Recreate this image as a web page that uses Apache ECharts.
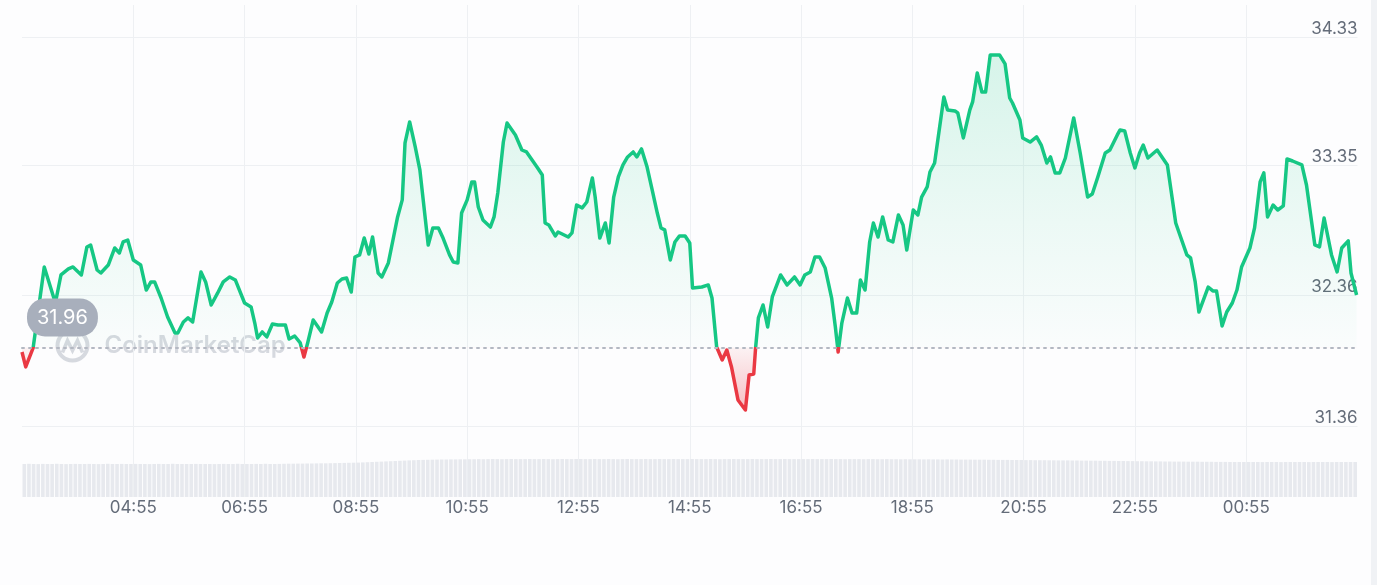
<!DOCTYPE html>
<html><head><meta charset="utf-8">
<script src="https://cdn.jsdelivr.net/npm/echarts@6/dist/echarts.min.js"></script>
<style>html,body{margin:0;padding:0;background:#fdfdfe}#c{width:1377px;height:585px}</style>
</head><body><div id="c"></div>
<script>
// ---- data ----
const xTickLabels = ['04:55','06:55','08:55','10:55','12:55','14:55','16:55','18:55','20:55','22:55','00:55'];
const yTickValues = [31.36, 32.36, 33.35, 34.33];
const baseline = 31.96;
// minutes since 02:55
const minutes = [0,4,12,24,36,42,50,55,64,70,
74,81,85,93,100,105,109,114,120,128,
134,139,143,150,157,165,168,174,179,184,
193,198,204,211,217,224,230,240,247,251,
254,259,264,270,276,284,288,294,300,304,
308,314,323,329,334,340,345,350,355,359,
364,369,374,378,384,388,395,400,405,410,
413,418,424,429,438,443,449,454,461,465,
470,474,480,485,488,492,497,505,509,513,
519,523,532,539,544,550,556,561,564,568,
575,578,589,593,598,604,609,615,618,623,
629,633,638,643,648,653,659,663,668,674,
679,685,689,693,699,704,709,715,720,723,
733,740,744,749,755,760,765,772,780,784,
789,791,794,799,804,809,818,825,833,839,
844,850,855,860,866,873,877,880,884,890,
895,900,904,909,914,918,923,928,934,939,
945,950,954,961,966,970,976,979,984,994,
998,1006,1009,1015,1022,1025,1030,1035,1039,1044,
1054,1060,1065,1068,1076,1079,1087,1094,1099,1105,
1109,1114,1119,1125,1134,1141,1149,1154,1160,1168,
1173,1181,1184,1189,1195,1200,1205,1209,1214,1224,
1235,1240,1244,1256,1260,1265,1269,1279,1284,1288,
1294,1299,1305,1310,1315,1324,1329,1335,1339,1343,
1349,1354,1360,1364,1370,1380,1385,1391,1394,1399,
1404,1412,1418,1423,1430,1433,1439];
const prices = [31.925,31.811,31.956,32.574,32.299,32.513,32.559,32.574,32.513,32.727,
32.742,32.551,32.528,32.589,32.719,32.681,32.765,32.780,32.627,32.589,
32.398,32.460,32.460,32.337,32.192,32.070,32.070,32.154,32.185,32.154,
32.536,32.460,32.284,32.376,32.460,32.498,32.475,32.299,32.269,32.146,
32.032,32.078,32.040,32.139,32.131,32.131,32.024,32.047,31.994,31.887,
31.994,32.169,32.078,32.223,32.307,32.452,32.482,32.490,32.383,32.650,
32.666,32.795,32.673,32.803,32.528,32.498,32.605,32.780,32.956,33.086,
33.521,33.681,33.490,33.315,32.742,32.872,32.872,32.795,32.666,32.612,
32.605,32.986,33.086,33.223,33.223,33.032,32.933,32.879,32.956,33.139,
33.528,33.673,33.582,33.467,33.452,33.391,33.330,33.276,32.910,32.895,
32.811,32.841,32.803,32.834,33.047,33.025,33.070,33.254,33.108,32.795,
32.910,32.757,33.108,33.261,33.353,33.414,33.452,33.414,33.475,33.337,
33.177,32.986,32.872,32.857,32.627,32.765,32.811,32.811,32.757,32.414,
32.421,32.437,32.337,31.963,31.864,31.940,31.811,31.559,31.482,31.750,
31.757,31.956,32.185,32.284,32.116,32.345,32.513,32.437,32.498,32.437,
32.513,32.536,32.650,32.650,32.566,32.337,32.116,31.925,32.146,32.337,
32.223,32.223,32.475,32.398,32.765,32.910,32.803,32.956,32.780,32.765,
32.971,32.895,32.704,33.009,32.971,33.108,33.185,33.299,33.368,33.872,
33.773,33.765,33.750,33.559,33.773,33.834,34.055,33.910,33.910,34.193,
34.193,34.124,33.864,33.826,33.696,33.559,33.528,33.567,33.505,33.368,
33.414,33.292,33.292,33.406,33.712,33.444,33.108,33.131,33.261,33.444,
33.467,33.582,33.620,33.612,33.444,33.330,33.444,33.505,33.406,33.467,
33.353,33.108,32.910,32.666,32.643,32.460,32.230,32.421,32.391,32.391,
32.124,32.230,32.299,32.398,32.574,32.719,32.872,33.223,33.292,32.956,
33.047,33.009,33.040,33.399,33.383,33.353,33.200,32.895,32.742,32.727,
32.948,32.666,32.536,32.719,32.773,32.528,32.360];
// relative volume per 5-minute bar
const volumes = [
33,33.2,33,32.9,33.1,33,33,33.2,33,32.9,33,33.1,
33,33,33.1,33,32.9,33,33.2,33,33,33.1,33,33,
33.1,33,33,32.9,33,33.1,33,33,33.2,33,33,33,
33,33.1,33,33,33,32.9,33,33.1,33,33,33.2,33,
33,33,33.1,33,33.2,33,33,33.1,33.2,33.3,33.3,33.4,
33.4,33.5,33.5,33.6,33.7,33.7,33.8,33.9,34,34.1,34.2,34.3,
34.4,34.6,34.8,35,35.2,35.4,35.6,35.8,36,36.2,36.4,36.6,
36.8,37,37.1,37.2,37.3,37.4,37.5,37.5,37.6,37.6,37.7,37.7,
37.8,37.8,37.9,37.8,37.9,38,37.9,37.8,37.9,38,37.9,37.9,
37.9,38,37.9,37.9,38,37.9,37.8,37.9,38,37.9,37.9,38,
38,37.9,37.9,38,37.9,37.9,38,37.9,37.8,37.9,38,37.9,
37.9,37.9,38,37.9,37.9,38,37.9,37.9,38,37.9,37.9,37.9,
38,37.9,37.9,37.9,38,37.9,37.8,37.9,37.9,38,37.9,37.9,
37.9,38,37.9,37.9,37.9,38,37.9,37.9,38,37.9,37.9,37.9,
37.9,37.9,38,37.9,37.9,37.9,38,37.9,37.9,37.8,37.9,37.9,
37.9,37.8,37.9,37.9,37.8,37.8,37.9,37.8,37.8,37.7,37.8,37.7,
37.7,37.7,37.6,37.7,37.6,37.6,37.5,37.6,37.5,37.5,37.4,37.4,
37.4,37.3,37.3,37.3,37.2,37.2,37.1,37.1,37.1,37,37,37,
36.9,36.9,36.8,36.8,36.8,36.7,36.7,36.6,36.6,36.6,36.5,36.5,
36.4,36.4,36.3,36.3,36.2,36.2,36.1,36.1,36,36,35.9,35.9,
35.8,35.8,35.7,35.7,35.6,35.6,35.5,35.5,35.4,35.4,35.4,35.3,
35.3,35.3,35.2,35.2,35.2,35.1,35.1,35.1,35,35,35,35,
35,35,35,34.9,35,35,35,34.9,35,35,35,35,
35,34.9,35,35,35,35,34.9,35,35,35,35,35];

const GREEN = '#16c784', RED = '#ea3943';
const FONT = 'Inter, Roboto, sans-serif';
const LABEL = '#646c79';
const GRID = '#eef0f3';

const chart = echarts.init(document.getElementById('c'), null, {renderer: 'canvas'});
const option = {
  backgroundColor: '#fdfdfe',
  animation: false,
  grid: [
    {left: 22, right: 19.5, top: 5, bottom: 88},
    {left: 22, right: 19.5, top: 459, bottom: 88}
  ],
  xAxis: [
    {type: 'value', gridIndex: 0, min: 0, max: 1440, interval: 120,
     axisLine: {show: false}, axisTick: {show: false},
     splitLine: {show: true, showMinLine: false, showMaxLine: false, lineStyle: {color: GRID, width: 1}},
     axisLabel: {showMinLabel: false, showMaxLabel: false, margin: 2,
       formatter: v => xTickLabels[v / 120 - 1] || '',
       color: LABEL, fontSize: 17, fontFamily: FONT}},
    {type: 'category', gridIndex: 1, data: volumes.map((_, i) => i), show: false}
  ],
  yAxis: [
    {type: 'value', gridIndex: 0, position: 'right', min: 30.818, max: 34.574,
     axisLine: {show: false},
     axisTick: {show: false, customValues: yTickValues},
     axisLabel: {customValues: yTickValues, inside: true, verticalAlign: 'bottom', margin: 0,
       formatter: v => v.toFixed(2), color: LABEL, fontSize: 17, fontFamily: FONT},
     splitLine: {show: true, lineStyle: {color: GRID, width: 1}}},
    {type: 'value', gridIndex: 1, min: 0, max: 38, show: false}
  ],
  visualMap: {
    show: false, seriesIndex: 0, dimension: 1,
    pieces: [{min: 0, max: baseline, color: RED}, {gt: baseline, max: 100, color: GREEN}]
  },
  graphic: [
    {type: 'rect', right: 0, top: 0, z: 0, shape: {width: 6, height: 585}, style: {fill: '#f0f2f5'}},
    {type: 'group', left: 55, top: 328, z: 1, children: [
      {type: 'circle', shape: {cx: 18, cy: 17, r: 15}, style: {fill: 'none', stroke: 'rgba(160,168,182,0.42)', lineWidth: 4}},
      {type: 'polyline', shape: {points: [[8, 24], [13, 12], [18, 22], [23, 12], [28, 24]]}, style: {fill: 'none', stroke: 'rgba(160,168,182,0.42)', lineWidth: 3.5}},
      {type: 'text', x: 50, y: 17, style: {text: 'CoinMarketCap', font: '600 24px Inter, Roboto, sans-serif', fill: 'rgba(160,168,182,0.42)', verticalAlign: 'middle'}}
    ]}
  ],
  series: [
    {id: 'price', type: 'line', xAxisIndex: 0, yAxisIndex: 0,
     data: minutes.map((m, i) => [m, prices[i]]),
     showSymbol: false, symbol: 'none',
     lineStyle: {width: 3.5, join: 'round'},
     areaStyle: {origin: baseline, color: 'rgba(22,199,132,0.1)'},
     markLine: {
       symbol: 'none', silent: true, animation: false,
       data: [{yAxis: baseline}],
       lineStyle: {color: '#b3b8c2', type: [2, 5], width: 2, cap: 'round'},
       label: {show: true, position: 'insideStartTop', distance: [5, 11],
         formatter: () => baseline.toFixed(2),
         color: '#ffffff', fontSize: 20, fontFamily: FONT,
         backgroundColor: '#a8afbc', borderRadius: 18, padding: [10, 10, 8, 10]}
     }},
    {type: 'bar', xAxisIndex: 1, yAxisIndex: 1, data: volumes, silent: true,
     barCategoryGap: '22%', itemStyle: {color: '#e7e9ee'}}
  ]
};
chart.setOption(option);

const yTop = chart.convertToPixel({yAxisIndex: 0}, Math.max(...prices));
const yBot = chart.convertToPixel({yAxisIndex: 0}, Math.min(...prices));
const yBase = chart.convertToPixel({yAxisIndex: 0}, baseline);
const off = Math.min(0.999, Math.max(0.001, (yBase - yTop) / (yBot - yTop)));
chart.setOption({series: [{id: 'price', areaStyle: {origin: baseline, color:
  new echarts.graphic.LinearGradient(0, yTop, 0, yBot, [
    {offset: 0, color: 'rgba(22,199,132,0.24)'},
    {offset: off * 0.55, color: 'rgba(22,199,132,0.11)'},
    {offset: off, color: 'rgba(22,199,132,0.02)'},
    {offset: off, color: 'rgba(234,57,67,0.08)'},
    {offset: 1, color: 'rgba(234,57,67,0.45)'}
  ], true)}}]});
</script>
</body></html>
